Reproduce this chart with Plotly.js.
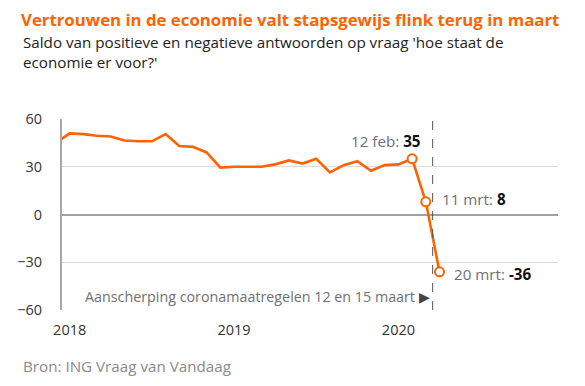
<!DOCTYPE html>
<html>
<head>
<meta charset="utf-8">
<script src="https://cdn.plot.ly/plotly-3.0.1.min.js"></script>
<style>
html,body{margin:0;padding:0;background:#fff;}
#chart{width:585px;height:386px;}
</style>
</head>
<body>
<div id="chart"></div>
<script>
// Survey moments (monthly, then the three March 2020 readings)
const periods = [
  '2017-12',
  '2018-01','2018-02','2018-03','2018-04','2018-05','2018-06',
  '2018-07','2018-08','2018-09','2018-10','2018-11','2018-12',
  '2019-01','2019-02','2019-03','2019-04','2019-05','2019-06',
  '2019-07','2019-08','2019-09','2019-10','2019-11','2019-12',
  '2020-01','2020-02-12','2020-03-11','2020-03-20'
];
const saldo = [
  45,
  51, 50.5, 49.5, 49, 46.5, 46,
  46, 50.5, 43, 42.5, 39, 29.5,
  30, 30, 30, 31.5, 34, 32,
  35, 26.5, 31, 33.5, 27.5, 31,
  31.5, 35, 8, -36
];
const markedPeriods = ['2020-02-12','2020-03-11','2020-03-20'];
const markedLabels = ['12 feb:', '11 mrt:', '20 mrt:'];
const yearTickVals = ['2018-01','2019-01','2020-01'];
const yearTickText = ['2018','2019','2020'];
const yTicks = [-60, -30, 0, 30, 60];
const titleText = 'Vertrouwen in de economie valt stapsgewijs flink terug in maart';
const subtitleLines = ["Saldo van positieve en negatieve antwoorden op vraag 'hoe staat de", "economie er voor?'"];
const measuresNote = 'Aanscherping coronamaatregelen 12 en 15 maart';
const sourceText = 'Bron: ING Vraag van Vandaag';

const ORANGE = '#FF6200';
const FONT = '"Open Sans", Lato, sans-serif';

const markedValues = markedPeriods.map(p => saldo[periods.indexOf(p)]);

const traces = [
  {
    type: 'scatter', mode: 'lines', x: periods, y: saldo,
    line: {color: ORANGE, width: 2.6}, hoverinfo: 'skip', cliponaxis: true
  },
  {
    type: 'scatter', mode: 'markers', x: markedPeriods, y: markedValues,
    marker: {color: '#ffffff', size: 9, line: {color: ORANGE, width: 2}},
    hoverinfo: 'skip', cliponaxis: false
  }
];

const dashX = (periods.indexOf('2020-03-11') + periods.indexOf('2020-03-20')) / 2;

const labelFont = {family: FONT, size: 15.2, color: '#707070'};
const fmt = v => (v < 0 ? '-' : '') + Math.abs(v);
const py = p => (310.3 - p) / 191;          // pixel row -> paper y
const SUBX = (21.7 - 62.3) / 495.7;          // left text column in paper x

const annotations = [
  {
    xref: 'x', yref: 'y', x: markedPeriods[0], y: markedValues[0],
    text: markedLabels[0] + ' <b><span style="color:#111">' + fmt(markedValues[0]) + '</span></b>',
    showarrow: false, xanchor: 'right', yanchor: 'middle', xshift: 11, yshift: 18, font: labelFont
  },
  {
    xref: 'x', yref: 'y', x: markedPeriods[1], y: markedValues[1],
    text: markedLabels[1] + ' <b><span style="color:#111">' + fmt(markedValues[1]) + '</span></b>',
    showarrow: false, xanchor: 'left', yanchor: 'middle', xshift: 14, yshift: 3, font: labelFont
  },
  {
    xref: 'x', yref: 'y', x: markedPeriods[2], y: markedValues[2],
    text: markedLabels[2] + ' <b><span style="color:#111">' + fmt(markedValues[2]) + '</span></b>',
    showarrow: false, xanchor: 'left', yanchor: 'middle', xshift: 12, yshift: -2, font: labelFont
  },
  {
    xref: 'x', yref: 'y', x: dashX, y: -51.5,
    text: measuresNote + ' <span style="color:#444">▶</span>',
    showarrow: false, xanchor: 'right', yanchor: 'middle', xshift: -1, font: {family: FONT, size: 14.3, color: '#707070'}
  },
  {
    xref: 'paper', yref: 'paper', x: SUBX, y: py(42.5),
    text: subtitleLines[0],
    showarrow: false, xanchor: 'left', yanchor: 'middle', align: 'left',
    font: {family: FONT, size: 15.2, color: '#222'}
  },
  {
    xref: 'paper', yref: 'paper', x: SUBX, y: py(62.3),
    text: subtitleLines[1],
    showarrow: false, xanchor: 'left', yanchor: 'middle', align: 'left',
    font: {family: FONT, size: 15.2, color: '#222'}
  },
  {
    xref: 'paper', yref: 'paper', x: SUBX, y: py(366),
    text: sourceText,
    showarrow: false, xanchor: 'left', yanchor: 'middle', align: 'left',
    font: {family: FONT, size: 15.2, color: '#8a8a8a'}
  }
];

const layout = {
  width: 585, height: 386,
  margin: {l: 62, r: 27, t: 119, b: 76},
  paper_bgcolor: '#ffffff', plot_bgcolor: '#ffffff',
  showlegend: false,
  title: {
    text: '<b>' + titleText + '</b>',
    x: 21/585, xanchor: 'left', xref: 'container',
    y: 1 - 20/386, yanchor: 'middle', yref: 'container',
    font: {family: FONT, size: 16.8, color: ORANGE}
  },
  xaxis: {
    type: 'category', categoryorder: 'array', categoryarray: periods,
    range: [0.44, 36.65],
    tickvals: yearTickVals, ticktext: yearTickText,
    showgrid: false, zeroline: false, showline: false, ticks: '',
    ticklabelstandoff: 9,
    tickfont: {family: FONT, size: 14.5, color: '#333'}, fixedrange: true
  },
  yaxis: {
    range: [-60, 60], tickvals: yTicks,
    showgrid: true, gridcolor: '#dcdcdc', gridwidth: 1,
    zeroline: true, zerolinecolor: '#a0a0a0', zerolinewidth: 2,
    showline: true, linecolor: '#a8a8a8', linewidth: 2,
    ticks: '', ticklabelstandoff: 15,
    tickfont: {family: FONT, size: 14.5, color: '#333'}, fixedrange: true
  },
  shapes: [
    {type: 'line', xref: 'x', yref: 'paper', x0: dashX, x1: dashX, y0: 0, y1: 1,
     line: {color: '#555', width: 1, dash: 'dash'}}
  ],
  annotations: annotations
};

Plotly.newPlot('chart', traces, layout, {displayModeBar: false, staticPlot: true});
</script>
</body>
</html>
